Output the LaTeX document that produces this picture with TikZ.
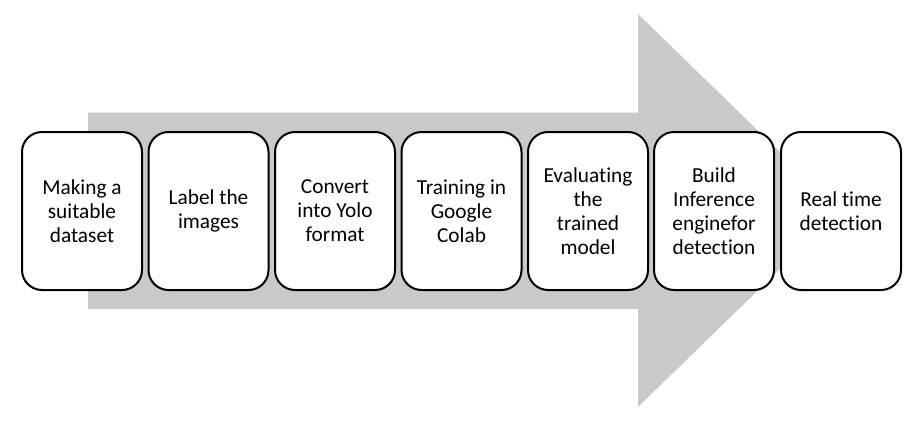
\documentclass[tikz,border=0pt]{standalone}
\usepackage{fontspec}
\setmainfont{Carlito}[Ligatures=NoCommon]
\definecolor{arrowgrey}{RGB}{201,201,201}
\begin{document}
\begin{tikzpicture}[x=0.75pt,y=-0.75pt,
  stepbox/.style={draw=black,line width=1.5pt,fill=white,rounded corners=15pt,
    minimum width=90pt,minimum height=118.5pt,align=center,inner sep=2pt,
    font=\fontsize{16pt}{18pt}\selectfont}]
\useasboundingbox (0,0) rectangle (919,421);
\fill[arrowgrey] (88,112.5) -- (638,112.5) -- (638,14) -- (840,210.5) -- (638,407) -- (638,309) -- (88,309) -- cycle;
\node[stepbox] (s1) at (82,211) {Making a\\suitable\\dataset};
\node[stepbox] (s2) at (208.5,211) {Label the\\images};
\node[stepbox] (s3) at (335,211) {Convert\\into Yolo\\format};
\node[stepbox] (s4) at (461.5,211) {Training in\\Google\\Colab};
\node[stepbox] (s5) at (588,211) {Evaluating\\the\\trained\\model};
\node[stepbox] (s6) at (714,211) {Build\\Inference\\enginefor\\detection};
\node[stepbox] (s7) at (841,211) {Real time\\detection};
\end{tikzpicture}
\end{document}
